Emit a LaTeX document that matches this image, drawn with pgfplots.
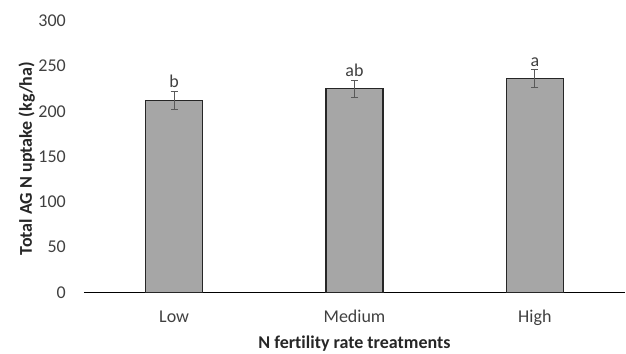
\documentclass[border=0pt]{standalone}
\usepackage{pgfplots}
\pgfplotsset{compat=1.18}
\usepackage{fontspec}
\setmainfont[Ligatures=NoCommon]{Carlito}
\definecolor{barfill}{HTML}{A6A6A6}
\definecolor{errgray}{HTML}{595959}
\definecolor{txt}{HTML}{404040}
\definecolor{ttl}{HTML}{262626}
\newcommand{\chartfont}{\fontsize{18bp}{21bp}\selectfont}
\begin{document}
\begin{tikzpicture}
\begin{axis}[
  scale only axis, width=541bp, height=271.8bp,
  xmin=-0.5, xmax=2.5, ymin=0, ymax=300,
  xtick={0,1,2}, xticklabels={Low,Medium,High},
  ytick={0,50,...,300},
  axis x line*=bottom, axis y line*=left,
  y axis line style={draw=none},
  x axis line style={black, line width=1.5bp},
  major tick length=0pt,
  tick label style={font=\chartfont, text=txt},
  /pgf/number format/assume math mode=true,
  yticklabel style={anchor=east, inner sep=0pt, xshift=-18bp},
  xticklabel style={anchor=base, inner sep=0pt, yshift=-30.2bp},
  xlabel={N fertility rate treatments},
  ylabel={Total AG N uptake (kg/ha)},
  label style={font=\chartfont\bfseries, text=ttl},
  xlabel style={at={(axis description cs:0.5,0)}, anchor=base, inner sep=0pt, yshift=-55.5bp},
  ylabel style={at={([xshift=-52bp,yshift=-2bp]axis description cs:0,0.5)}, anchor=base, inner sep=0pt},
  clip=false,
]
  % treatment means with standard errors
  \addplot[ybar, bar width=57bp, fill=barfill, draw=black!85, line width=1.4bp,
    error bars/.cd, y dir=both, y explicit,
    error bar style={errgray, line width=1bp},
    error mark options={rotate=90, mark size=3.5bp, errgray, line width=1bp}]
    coordinates {(0,212) +- (0,9.7) (1,225) +- (0,9.4) (2,236) +- (0,9.6)};
  % mean separation letters above the error bars
  \addplot[only marks, mark=none, nodes near coords, point meta=explicit symbolic,
    nodes near coords style={anchor=south, inner sep=0pt, yshift=3.4bp, font=\chartfont, text=txt}]
    coordinates {(0,221.7)[b] (1,234.4)[ab] (2,245.6)[a]};
  \coordinate (ll) at (rel axis cs:0,0);
  \coordinate (ur) at (rel axis cs:1,1);
\end{axis}
\pgfresetboundingbox
\path ([shift={(-84bp,-61.5bp)}]ll) rectangle ([shift={(1bp,20.7bp)}]ur);
\end{tikzpicture}
\end{document}
